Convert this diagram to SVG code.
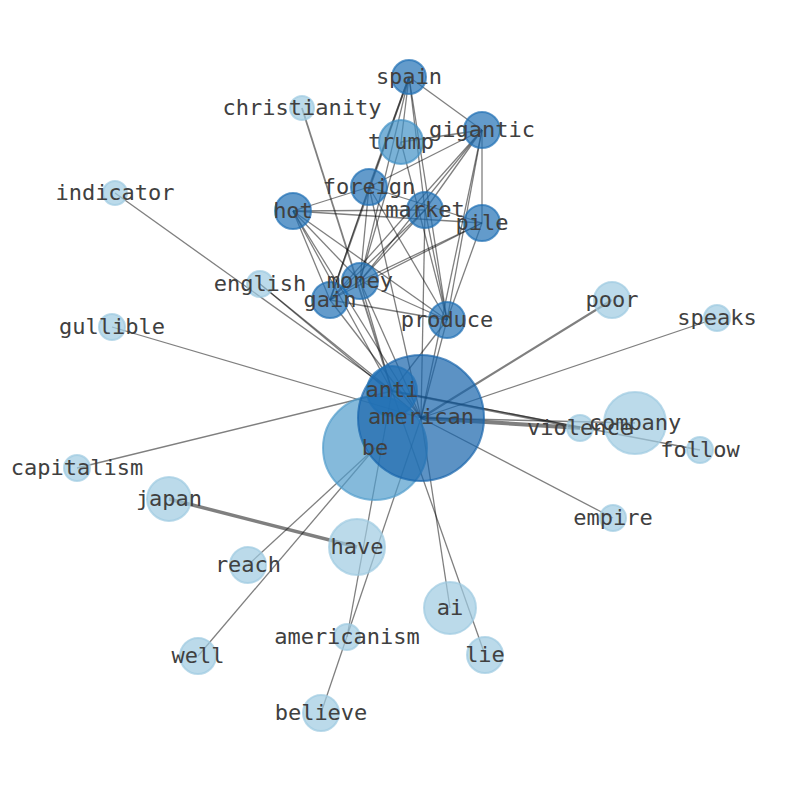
<svg xmlns="http://www.w3.org/2000/svg" width="794" height="790" viewBox="0 0 794 790">
<style>
.e{stroke:#000;stroke-opacity:0.5;stroke-width:1.3;fill:none}
.n circle{stroke-width:2;fill-opacity:0.7;stroke-opacity:0.7}
.l circle{fill:#9ecae1;stroke:#9ecae1}
.d circle{fill:#2171b5;stroke:#2171b5}
text{font-family:"DejaVu Sans Mono","Liberation Mono",monospace;font-size:22px;fill:#404040;text-anchor:middle}
</style>
<rect width="794" height="790" fill="#fff"/>
<g id="edges">
<line class="e" x1="115" y1="193" x2="392" y2="391"/>
<line class="e" x1="260" y1="284" x2="392" y2="391"/>
<line class="e" x1="260" y1="284" x2="421" y2="418"/>
<line class="e" x1="112" y1="327" x2="421" y2="418"/>
<line class="e" x1="77" y1="468" x2="392" y2="391"/>
<line class="e" x1="302" y1="108" x2="392" y2="391" style="stroke-width:1.8"/>
<line class="e" x1="612" y1="300" x2="421" y2="418" style="stroke-width:2.2"/>
<line class="e" x1="717" y1="318" x2="421" y2="418"/>
<line class="e" x1="580" y1="428" x2="421" y2="418" style="stroke-width:4"/>
<line class="e" x1="635" y1="423" x2="421" y2="418" style="stroke-width:1.5"/>
<line class="e" x1="580" y1="428" x2="392" y2="391" style="stroke-width:2.5"/>
<line class="e" x1="700" y1="450" x2="392" y2="391"/>
<line class="e" x1="613" y1="518" x2="421" y2="418"/>
<line class="e" x1="169" y1="499" x2="357" y2="547" style="stroke-width:3.5"/>
<line class="e" x1="248" y1="565" x2="375" y2="448"/>
<line class="e" x1="198" y1="656" x2="375" y2="448"/>
<line class="e" x1="321" y1="713" x2="421" y2="418"/>
<line class="e" x1="347" y1="637" x2="392" y2="391"/>
<line class="e" x1="450" y1="608" x2="421" y2="418"/>
<line class="e" x1="485" y1="655" x2="392" y2="391"/>
<line class="e" x1="409" y1="77" x2="482" y2="130"/>
<line class="e" x1="409" y1="77" x2="401" y2="142"/>
<line class="e" x1="409" y1="77" x2="369" y2="187" style="stroke-width:1.8"/>
<line class="e" x1="409" y1="77" x2="330" y2="300" style="stroke-width:1.8"/>
<line class="e" x1="409" y1="77" x2="425" y2="210"/>
<line class="e" x1="409" y1="77" x2="447" y2="320"/>
<line class="e" x1="409" y1="77" x2="360" y2="281"/>
<line class="e" x1="482" y1="130" x2="401" y2="142"/>
<line class="e" x1="482" y1="130" x2="369" y2="187"/>
<line class="e" x1="482" y1="130" x2="425" y2="210"/>
<line class="e" x1="482" y1="130" x2="360" y2="281"/>
<line class="e" x1="482" y1="130" x2="330" y2="300"/>
<line class="e" x1="482" y1="130" x2="482" y2="223"/>
<line class="e" x1="482" y1="130" x2="447" y2="320"/>
<line class="e" x1="482" y1="130" x2="421" y2="418"/>
<line class="e" x1="369" y1="187" x2="293" y2="211"/>
<line class="e" x1="369" y1="187" x2="482" y2="223"/>
<line class="e" x1="369" y1="187" x2="360" y2="281"/>
<line class="e" x1="369" y1="187" x2="330" y2="300"/>
<line class="e" x1="369" y1="187" x2="447" y2="320"/>
<line class="e" x1="369" y1="187" x2="421" y2="418"/>
<line class="e" x1="293" y1="211" x2="425" y2="210"/>
<line class="e" x1="293" y1="211" x2="482" y2="223"/>
<line class="e" x1="293" y1="211" x2="360" y2="281"/>
<line class="e" x1="293" y1="211" x2="330" y2="300"/>
<line class="e" x1="293" y1="211" x2="447" y2="320"/>
<line class="e" x1="293" y1="211" x2="392" y2="391"/>
<line class="e" x1="293" y1="211" x2="421" y2="418"/>
<line class="e" x1="425" y1="210" x2="360" y2="281"/>
<line class="e" x1="425" y1="210" x2="330" y2="300"/>
<line class="e" x1="425" y1="210" x2="447" y2="320"/>
<line class="e" x1="425" y1="210" x2="421" y2="418"/>
<line class="e" x1="482" y1="223" x2="360" y2="281"/>
<line class="e" x1="482" y1="223" x2="330" y2="300"/>
<line class="e" x1="482" y1="223" x2="447" y2="320"/>
<line class="e" x1="360" y1="281" x2="330" y2="300"/>
<line class="e" x1="360" y1="281" x2="447" y2="320"/>
<line class="e" x1="360" y1="281" x2="421" y2="418"/>
<line class="e" x1="360" y1="281" x2="392" y2="391"/>
<line class="e" x1="330" y1="300" x2="447" y2="320"/>
<line class="e" x1="330" y1="300" x2="421" y2="418"/>
<line class="e" x1="447" y1="320" x2="421" y2="418"/>
<line class="e" x1="447" y1="320" x2="392" y2="391"/>
<line class="e" x1="401" y1="142" x2="360" y2="281"/>
<line class="e" x1="401" y1="142" x2="447" y2="320"/>
</g>
<g id="nodes">
<g id="n-be" class="n"><circle cx="375" cy="448" r="52" fill="#519ccc" stroke="#519ccc"/></g>
<g id="n-american" class="n"><circle cx="421" cy="418" r="63" fill="#1764ab" stroke="#1764ab"/></g>
<g id="n-anti" class="n d"><circle cx="392" cy="391" r="25"/></g>
<g id="n-trump" class="n"><circle cx="401" cy="142" r="22" fill="#4292c6" stroke="#4292c6"/></g>
<g id="n-spain" class="n d"><circle cx="409" cy="77" r="17"/></g>
<g id="n-gigantic" class="n d"><circle cx="482" cy="130" r="18"/></g>
<g id="n-foreign" class="n d"><circle cx="369" cy="187" r="18"/></g>
<g id="n-hot" class="n d"><circle cx="293" cy="211" r="18"/></g>
<g id="n-market" class="n d"><circle cx="425" cy="210" r="18"/></g>
<g id="n-pile" class="n d"><circle cx="482" cy="223" r="18"/></g>
<g id="n-money" class="n d"><circle cx="360" cy="281" r="18"/></g>
<g id="n-gain" class="n d"><circle cx="330" cy="300" r="18"/></g>
<g id="n-produce" class="n d"><circle cx="447" cy="320" r="18"/></g>
<g id="n-christianity" class="n l"><circle cx="302" cy="108" r="12"/></g>
<g id="n-indicator" class="n l"><circle cx="115" cy="193" r="12"/></g>
<g id="n-english" class="n l"><circle cx="260" cy="284" r="13"/></g>
<g id="n-gullible" class="n l"><circle cx="112" cy="327" r="13"/></g>
<g id="n-capitalism" class="n l"><circle cx="77" cy="468" r="13"/></g>
<g id="n-japan" class="n l"><circle cx="169" cy="499" r="22"/></g>
<g id="n-reach" class="n l"><circle cx="248" cy="565" r="18"/></g>
<g id="n-well" class="n l"><circle cx="198" cy="656" r="18"/></g>
<g id="n-believe" class="n l"><circle cx="321" cy="713" r="18"/></g>
<g id="n-americanism" class="n l"><circle cx="347" cy="637" r="13"/></g>
<g id="n-have" class="n l"><circle cx="357" cy="547" r="28"/></g>
<g id="n-ai" class="n l"><circle cx="450" cy="608" r="26"/></g>
<g id="n-lie" class="n l"><circle cx="485" cy="655" r="18"/></g>
<g id="n-empire" class="n l"><circle cx="613" cy="518" r="13"/></g>
<g id="n-follow" class="n l"><circle cx="700" cy="450" r="13"/></g>
<g id="n-company" class="n l"><circle cx="635" cy="423" r="31"/></g>
<g id="n-violence" class="n l"><circle cx="580" cy="428" r="13"/></g>
<g id="n-speaks" class="n l"><circle cx="717" cy="318" r="13"/></g>
<g id="n-poor" class="n l"><circle cx="612" cy="300" r="18"/></g>
</g>
<g id="labels">
<text x="375" y="455">be</text>
<text x="421" y="424">american</text>
<text x="392" y="397">anti</text>
<text x="401" y="149">trump</text>
<text x="409" y="84">spain</text>
<text x="482" y="137">gigantic</text>
<text x="369" y="194">foreign</text>
<text x="293" y="218">hot</text>
<text x="425" y="217">market</text>
<text x="482" y="230">pile</text>
<text x="360" y="288">money</text>
<text x="330" y="307">gain</text>
<text x="447" y="327">produce</text>
<text x="302" y="115">christianity</text>
<text x="115" y="200">indicator</text>
<text x="260" y="291">english</text>
<text x="112" y="334">gullible</text>
<text x="77" y="475">capitalism</text>
<text x="169" y="506">japan</text>
<text x="248" y="572">reach</text>
<text x="198" y="663">well</text>
<text x="321" y="720">believe</text>
<text x="347" y="644">americanism</text>
<text x="357" y="554">have</text>
<text x="450" y="615">ai</text>
<text x="485" y="662">lie</text>
<text x="613" y="525">empire</text>
<text x="700" y="457">follow</text>
<text x="635" y="430">company</text>
<text x="580" y="435">violence</text>
<text x="717" y="325">speaks</text>
<text x="612" y="307">poor</text>
</g>
</svg>
